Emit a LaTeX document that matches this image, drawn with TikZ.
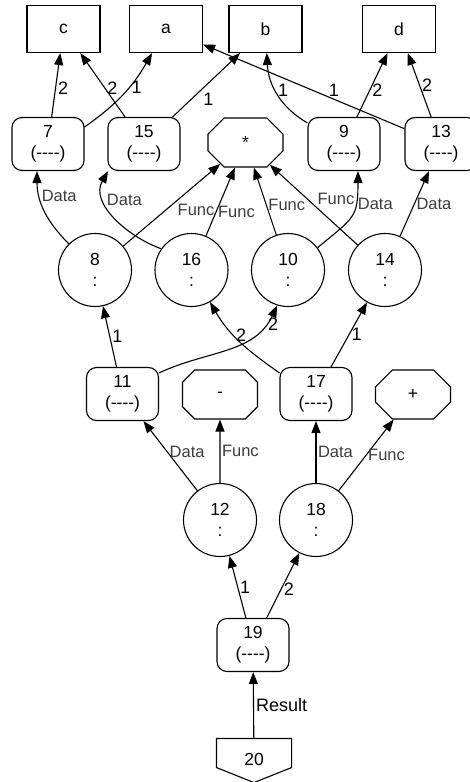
\documentclass[tikz,border=0pt]{standalone}
\usepackage{fontspec}
\setmainfont{Liberation Sans}
\usetikzlibrary{arrows.meta,shapes.misc}
\definecolor{lblgray}{RGB}{60,60,60}
\newcommand{\nodash}{(-{}-{}-{}-)}

\begin{document}
\begin{tikzpicture}[x=1pt,y=1pt,line width=1.1pt,
    every node/.style={font=\fontsize{17.5}{21}\selectfont,align=center},
    var/.style={draw,rectangle,minimum width=73,minimum height=47},
    res/.style={draw,rectangle,rounded corners=10pt,minimum width=72,minimum height=53},
    fun/.style={draw,chamfered rectangle,chamfered rectangle xsep=14pt,
        chamfered rectangle ysep=14pt,minimum width=75,minimum height=49},
    app/.style={draw,circle,minimum size=73,inner sep=0pt},
    link/.style={-{Triangle[length=12pt,width=9pt]}},
    num/.style={font=\fontsize{18}{20}\selectfont,inner sep=2pt},
    lbl/.style={font=\fontsize{16.5}{18}\selectfont,text=lblgray,inner sep=1.5pt}]
\useasboundingbox (0,0) rectangle (470,-782);
% variables
\node[var] (c) at (63.5,-29) {c};
\node[var] (a) at (166,-29) {a};
\node[var] (b) at (265.5,-29) {b};
\node[var] (d) at (399,-29) {d};
% first row
\node[res] (n7) at (48,-144) {7\\\nodash};
\node[res] (n15) at (144,-144) {15\\\nodash};
\node[fun] (star) at (245.5,-142.5) {*};
\node[res] (n9) at (344,-144) {9\\\nodash};
\node[res] (n13) at (441,-144) {13\\\nodash};
% applications
\node[app] (n8) at (95,-270) {8\\:};
\node[app] (n16) at (191.5,-270) {16\\:};
\node[app] (n10) at (288,-270) {10\\:};
\node[app] (n14) at (385,-270) {14\\:};
\node[res] (n11) at (122.5,-394) {11\\\nodash};
\node[fun] (minus) at (220,-394.5) {-};
\node[res] (n17) at (316,-394) {17\\\nodash};
\node[fun] (plus) at (413,-394.5) {+};
\node[app] (n12) at (220,-520) {12\\:};
\node[app] (n18) at (316,-520) {18\\:};
\node[res] (n19) at (253,-645) {19\\\nodash};
\node[minimum width=74,minimum height=43] (n20) at (254,-760.5) {\raisebox{3pt}{20}};
\draw (n20.north west) -- (n20.north east) -- ([yshift=15]n20.south east)
    -- (n20.south) -- ([yshift=15]n20.south west) -- cycle;
% to the variables
\draw[link] (n7) -- node[num,pos=.45,anchor=west]{2} (c);
\draw[link] (n7.25) to[out=35,in=-120] node[num,pos=.6,anchor=west]{1} (a);
\draw[link] (n15) -- node[num,pos=.45,anchor=west]{2} (c);
\draw[link] (n15) -- node[num,pos=.42,anchor=north west]{1} (b);
\draw[link] (n9) to[out=150,in=-87] node[num,pos=.55,anchor=west]{1} (b);
\draw[link] (n9) -- node[num,pos=.42,anchor=west]{2} (d);
\draw[link] (n13) -- node[num,pos=.35,anchor=south]{1} (a);
\draw[link] (n13) -- node[num,pos=.5,anchor=west]{2} (d);
% data and func
\draw[link] (n8.135) to[out=135,in=-90] node[lbl,pos=.7,anchor=west]{Data} ([xshift=-11]n7.south);
\draw[link] (n8) -- node[lbl,pos=.54,anchor=north west]{Func} (star);
\draw[link] (n16.145) to[out=160,in=-120] node[lbl,pos=.7,anchor=west]{Data} (n15.-143);
\draw[link] (n16) -- node[lbl,pos=.35,anchor=west]{Func} (star);
\draw[link] (n10) -- node[lbl,pos=.44,anchor=west]{Func} (star);
\draw[link] (n10.37) to[out=40,in=-90,looseness=1.4] node[lbl,pos=.68,anchor=west]{Data} ([xshift=14]n9.south);
\draw[link] (n14) -- node[lbl,pos=.48,anchor=south west]{Func} (star);
\draw[link] (n14) -- node[lbl,pos=.5,anchor=west]{Data} (n13);
% arguments
\draw[link] (n11) -- node[num,pos=.5,anchor=west]{1} (n8);
\draw[link] (n11.30) to[out=25,in=-115] node[num,pos=.85,anchor=west]{2} (n10.-107);
\draw[link] (n17.150) to[out=145,in=-60] node[num,pos=.6,anchor=west]{2} (n16.-60);
\draw[link] (n17) -- node[num,pos=.5,anchor=west]{1} (n14);
\draw[link] (n12) -- node[lbl,pos=.55,anchor=west]{Data} (n11);
\draw[link] (n12) -- node[lbl,pos=.5,anchor=west]{Func} (minus);
\draw[link] (n18) -- node[lbl,pos=.5,anchor=west]{Data} (n17);
\draw[link] (n18) -- node[lbl,pos=.5,anchor=west]{Func} (plus);
\draw[link] (n19) -- node[num,pos=.5,anchor=west]{1} (n12);
\draw[link] (n19) -- node[num,pos=.45,anchor=west]{2} (n18);
\draw[link] (n20) -- node[num,pos=.5,anchor=west]{Result} (n19);
\end{tikzpicture}
\end{document}
